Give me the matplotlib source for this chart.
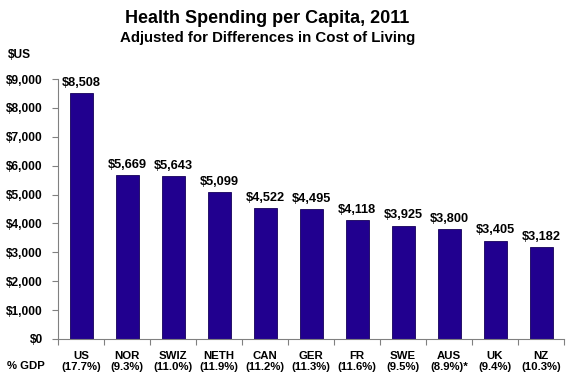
import matplotlib
matplotlib.use("Agg")
import matplotlib.pyplot as plt
import numpy as np

countries = ["US", "NOR", "SWIZ", "NETH", "CAN", "GER", "FR", "SWE", "AUS", "UK", "NZ"]
gdp_share = ["(17.7%)", "(9.3%)", "(11.0%)", "(11.9%)", "(11.2%)", "(11.3%)",
             "(11.6%)", "(9.5%)", "(8.9%)*", "(9.4%)", "(10.3%)"]
spending = [8508, 5669, 5643, 5099, 4522, 4495, 4118, 3925, 3800, 3405, 3182]
yticks = [0, 1000, 2000, 3000, 4000, 5000, 6000, 7000, 8000, 9000]

plt.rcParams['font.family'] = ['Liberation Sans', 'DejaVu Sans']
plt.rcParams['font.weight'] = 'bold'

fig = plt.figure(figsize=(5.7, 3.73), dpi=100)
ax = fig.add_axes([0.1018, 0.0912, 0.8877, 0.6968])

x = np.arange(len(countries))
ax.bar(x, spending, width=0.5, color='#21008F', edgecolor='#14005A', linewidth=0.6)
for xi, v in zip(x, spending):
    ax.annotate(f"${v:,}", (xi, v), xytext=(0, 3), textcoords='offset points',
                ha='center', va='bottom', fontsize=9.2, fontweight='bold')

ax.set_xlim(-0.5, len(countries) - 0.5)
ax.set_ylim(0, 9000)
ax.set_yticks(yticks)
ax.set_yticklabels([f"${t:,}" for t in yticks], fontsize=8.6, fontweight='bold')
ax.set_xticks(x)
ax.set_xticklabels([f"{c}\n{g}" for c, g in zip(countries, gdp_share)],
                   fontsize=8.2, fontweight='bold', linespacing=1.15)
ax.set_xticks(np.arange(len(countries) + 1) - 0.5, minor=True)
ax.tick_params(axis='x', which='major', length=0, pad=8.5)
ax.tick_params(axis='x', which='minor', length=4, color='#808080', width=0.8)
ax.tick_params(axis='y', length=4, color='#808080', width=0.8, pad=7)
for s in ['top', 'right']:
    ax.spines[s].set_visible(False)
for s in ['left', 'bottom']:
    ax.spines[s].set_color('#808080')
    ax.spines[s].set_linewidth(0.8)

fig.text(0.468, 0.937, "Health Spending per Capita, 2011", ha='center', va='baseline',
         fontsize=12.95, fontweight='bold')
fig.text(0.469, 0.887, "Adjusted for Differences in Cost of Living", ha='center', va='baseline',
         fontsize=10.85, fontweight='bold')
fig.text(0.014, 0.845, "$US", ha='left', va='baseline', fontsize=8.6, fontweight='bold')
fig.text(0.012, 0.0094, "% GDP", ha='left', va='baseline', fontsize=8.2, fontweight='bold')

fig.savefig("out.png", dpi=100)
